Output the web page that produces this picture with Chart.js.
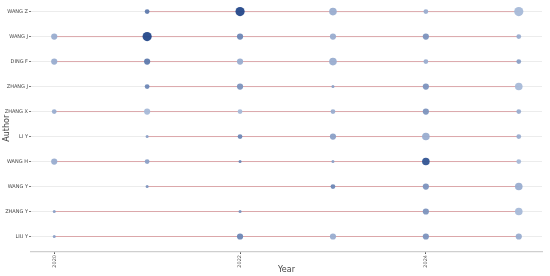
<!DOCTYPE html>
<html>
<head>
<meta charset="utf-8">
<script src="https://cdn.jsdelivr.net/npm/chart.js@4"></script>
<style>
html,body{margin:0;padding:0;background:#fff;}
#c{display:block;}
</style>
</head>
<body>
<canvas id="c" width="550" height="276"></canvas>
<script>
// ---- data ----
const authors = ['WANG Z','WANG J','DING F','ZHANG J','ZHANG X','LI Y','WANG H','WANG Y','ZHANG Y','LIU Y'];
const years = [2020, 2021, 2022, 2023, 2024, 2025];
const xTicks = [2020, 2022, 2024];
// article counts per author per year (null = none)
const freq = [
  [null, 2, 5, 4, 2, 5],
  [3, 5, 3, 3, 3, 2],
  [3, 3, 3, 4, 2, 2],
  [null, 2, 3, 1, 3, 4],
  [2, 3, 2, 2, 3, 2],
  [null, 1, 2, 3, 4, 2],
  [3, 2, 1, 1, 4, 2],
  [null, 1, null, 2, 3, 4],
  [1, null, 1, null, 3, 4],
  [1, null, 3, 3, 3, 3]
];
// citations per year (shade level 0..10)
const cites = [
  [null, 6, 10, 2, 2, 1],
  [2, 10, 5, 2, 4, 2],
  [2, 6, 2, 2, 2, 3],
  [null, 5, 4, 3, 4, 1],
  [2, 1, 1, 2, 4, 2],
  [null, 3, 5, 3, 2, 2],
  [2, 3, 5, 3, 9, 1],
  [null, 4, null, 5, 4, 2],
  [3, null, 4, null, 4, 1],
  [3, null, 5, 2, 4, 2]
];

// ---- styles ----
const radiusByFreq = [0, 1.5, 2.4, 3.1, 3.8, 4.6];
function shadeColor(s) {
  const t = s / 10;
  const a = [182, 198, 225], b = [36, 72, 138];
  const c = a.map((v, i) => Math.round(v + (b[i] - v) * t));
  return `rgba(${c[0]},${c[1]},${c[2]},0.95)`;
}

const datasets = [];
const points = [];
authors.forEach((name, i) => {
  const present = years.filter((y, j) => freq[i][j] !== null);
  datasets.push({
    type: 'line',
    data: [{x: present[0], y: i}, {x: present[present.length - 1], y: i}],
    borderColor: '#dba7aa',
    borderWidth: 1,
    pointRadius: 0,
    fill: false,
    order: 2
  });
  years.forEach((yr, j) => {
    if (freq[i][j] !== null) points.push({x: yr, y: i, f: freq[i][j], s: cites[i][j]});
  });
});
datasets.push({
  type: 'scatter',
  data: points,
  pointRadius: ctx => radiusByFreq[ctx.raw.f],
  pointBackgroundColor: ctx => shadeColor(ctx.raw.s),
  pointBorderWidth: 0,
  order: 1
});

const tickFont = {family: 'DejaVu Sans', size: 5};
new Chart(document.getElementById('c'), {
  data: {datasets},
  options: {
    responsive: false,
    animation: false,
    layout: {padding: {top: 0, right: 8, bottom: 0, left: 0}},
    plugins: {legend: {display: false}, tooltip: {enabled: false}},
    scales: {
      x: {
        type: 'linear',
        min: 2019.75,
        max: 2025.25,
        afterBuildTicks: s => { s.ticks = xTicks.map(v => ({value: v})); },
        afterFit: s => { s.height = 24; },
        grid: {drawOnChartArea: false, tickLength: 2, tickColor: '#555'},
        border: {color: '#cfcfcf', width: 1.2},
        ticks: {font: tickFont, color: '#555', minRotation: 90, maxRotation: 90, padding: 1, callback: v => String(v)},
        title: {display: true, text: 'Year', font: {family: 'DejaVu Sans', size: 8}, color: '#444', padding: {top: 0, bottom: 1}}
      },
      y: {
        type: 'linear',
        reverse: true,
        min: -0.28,
        max: 9.62,
        afterBuildTicks: s => { s.ticks = authors.map((a, i) => ({value: i})); },
        afterFit: s => { s.width = 31; },
        grid: {color: '#ececec', lineWidth: 1, tickLength: 2, tickColor: '#777'},
        border: {display: false},
        ticks: {font: tickFont, color: '#444', padding: 1, callback: v => authors[v]},
        title: {display: true, text: 'Author', font: {family: 'DejaVu Sans', size: 8}, color: '#444', padding: {top: 2, bottom: 0}}
      }
    }
  }
});
</script>
</body>
</html>
